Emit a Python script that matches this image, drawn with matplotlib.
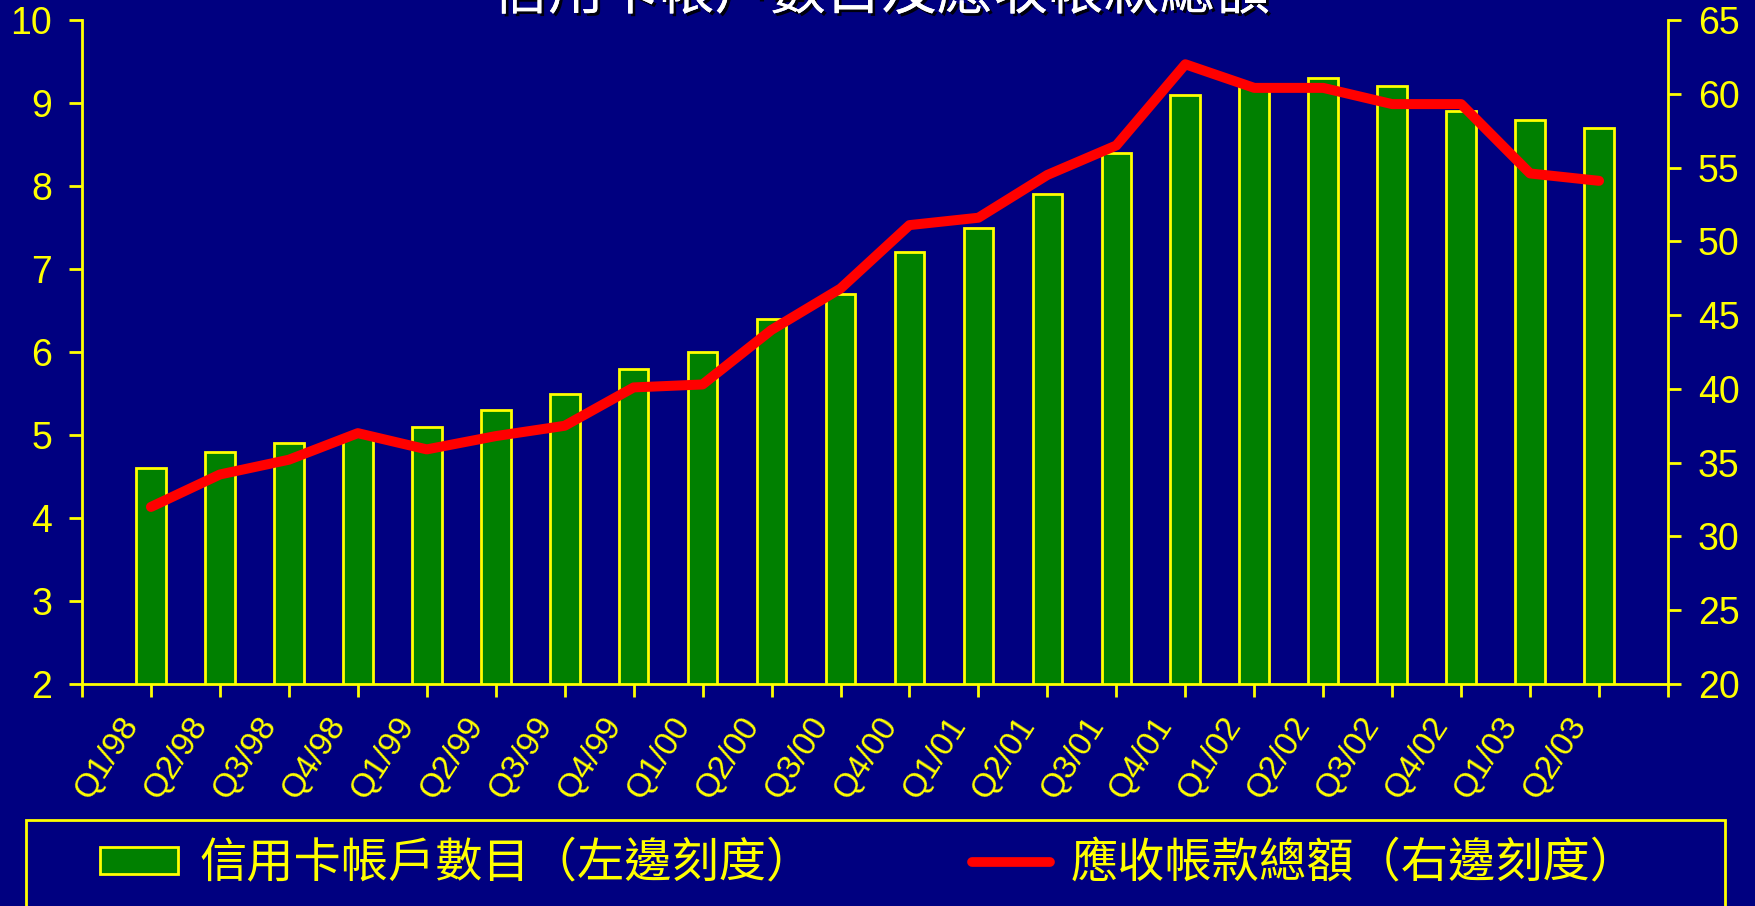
import matplotlib
matplotlib.use("Agg")
import matplotlib.pyplot as plt
import matplotlib.patheffects as pe
import matplotlib.transforms as mtransforms
from matplotlib.patches import Rectangle, Patch
from matplotlib.lines import Line2D
import numpy as np

# data
quarters = ["Q1/98", "Q2/98", "Q3/98", "Q4/98", "Q1/99", "Q2/99", "Q3/99", "Q4/99",
            "Q1/00", "Q2/00", "Q3/00", "Q4/00", "Q1/01", "Q2/01", "Q3/01", "Q4/01",
            "Q1/02", "Q2/02", "Q3/02", "Q4/02", "Q1/03", "Q2/03"]
accounts = [4.6, 4.8, 4.9, 5.0, 5.1, 5.3, 5.5, 5.8, 6.0, 6.4, 6.7, 7.2,
            7.5, 7.9, 8.4, 9.1, 9.2, 9.3, 9.2, 8.9, 8.8, 8.7]
receivables = [32.0, 34.2, 35.2, 37.0, 35.9, 36.8, 37.5, 40.1, 40.3, 44.0, 46.8, 51.1,
               51.6, 54.5, 56.5, 62.0, 60.4, 60.4, 59.3, 59.3, 54.6, 54.1]

title = "信用卡帳戶數目及應收帳款總額"
bar_label = "信用卡帳戶數目（左邊刻度）"
line_label = "應收帳款總額（右邊刻度）"

navy = "#000080"
yellow = "#FFFF00"
cjk = ["Noto Sans CJK TC", "DejaVu Sans"]
plt.rcParams['font.family'] = ['Liberation Sans', 'DejaVu Sans']

W, H = 1755, 906
fig = plt.figure(figsize=(W / 100, H / 100), dpi=100, facecolor=navy)
ax = fig.add_axes([82 / W, 1 - 684 / H, (1668 - 82) / W, (684 - 20) / H])
ax.set_facecolor(navy)

x = np.arange(len(quarters))
ax.bar(x, accounts, width=0.43, bottom=0, color="#008000", edgecolor=yellow, linewidth=2)
ax.set_ylim(2, 10)
ax.set_xlim(-1, len(quarters))
ax.set_yticks(np.arange(2, 11, 1))

ax2 = ax.twinx()
ax2.plot(x, receivables, color="#FF0000", linewidth=7.2,
         solid_capstyle="round", solid_joinstyle="round")
ax2.set_ylim(20, 65)
ax2.set_yticks(np.arange(20, 66, 5))

for a in (ax, ax2):
    a.spines["top"].set_visible(False)
    for s in a.spines.values():
        s.set_color(yellow)
        s.set_linewidth(2)
ax.spines["right"].set_visible(False)
ax2.spines["left"].set_visible(False)
ax2.spines["bottom"].set_visible(False)

ax.tick_params(axis="y", colors=yellow, labelsize=27, length=9.5, width=2, pad=12)
ax2.tick_params(axis="y", colors=yellow, labelsize=27, length=9.5, width=2, pad=12)

ticks = np.arange(-1, len(quarters) + 1)
ax.set_xticks(ticks)
ax.set_xticklabels([""] + quarters + [""])
ax.tick_params(axis="x", colors=yellow, labelsize=24, length=9, width=2, pad=20)
shift = mtransforms.ScaledTranslation(-12 / 100, 0, fig.dpi_scale_trans)
for lbl in ax.get_xticklabels():
    lbl.set_rotation(57)
    lbl.set_ha("right")
    lbl.set_va("baseline")
    lbl.set_rotation_mode("anchor")
    lbl.set_transform(lbl.get_transform() + shift)

# title, mostly cut off at the top edge
fig.text(881 / W, 1 - 9 / H, title, family=cjk, fontsize=40, color="white",
         ha="center", va="baseline",
         path_effects=[pe.withSimplePatchShadow(offset=(2, -2), shadow_rgbFace="black", alpha=0.9),
                       pe.Normal()])

# legend frame running off the bottom edge
fig.add_artist(Rectangle((26 / W, -0.1), (1725 - 26) / W, 0.1 + (1 - 820 / H),
                         transform=fig.transFigure, fill=False, edgecolor=yellow, linewidth=2))

handles = [Patch(facecolor="#008000", edgecolor=yellow, linewidth=2),
           Line2D([], [], color="#FF0000", linewidth=7, solid_capstyle="round")]
leg = fig.legend(handles, [bar_label, line_label], ncol=2, frameon=False,
                 loc="center left", bbox_to_anchor=(100 / W, 1 - 864 / H),
                 prop={"family": cjk, "size": 34}, labelcolor=yellow,
                 handlelength=1.65, handleheight=0.48, handletextpad=0.45,
                 columnspacing=3.35, borderpad=0, borderaxespad=0)

fig.savefig("out.png", dpi=100, facecolor=navy)
